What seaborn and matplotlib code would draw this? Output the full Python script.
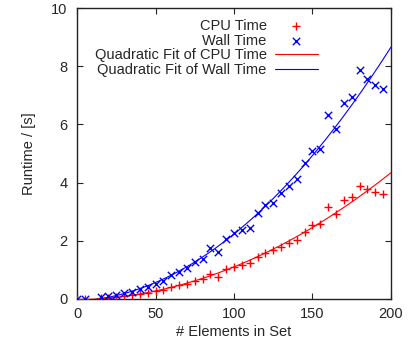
import numpy as np
import matplotlib
matplotlib.use("Agg")
import matplotlib.pyplot as plt
import seaborn as sns

# set sizes used in the benchmark
sizes = [0, 5, 15, 20, 25, 30, 35, 40, 45, 50, 55, 60, 65, 70, 75, 80, 85, 90, 95, 100,
         105, 110, 115, 120, 125, 130, 135, 140, 145, 150, 155, 160, 165, 170, 175, 180,
         185, 190, 195]

cpu_time = [0, 0, 0.03, 0.05, 0.07, 0.10, 0.13, 0.16, 0.21, 0.26, 0.32, 0.42, 0.47, 0.53,
            0.61, 0.67, 0.86, 0.77, 1.02, 1.10, 1.17, 1.23, 1.44, 1.58, 1.67, 1.80, 1.94,
            2.04, 2.31, 2.53, 2.58, 3.15, 2.93, 3.40, 3.50, 3.90, 3.77, 3.69, 3.62]

wall_time = [0, 0, 0.06, 0.10, 0.14, 0.20, 0.25, 0.33, 0.42, 0.52, 0.63, 0.82, 0.94, 1.05,
             1.28, 1.37, 1.74, 1.63, 2.07, 2.27, 2.37, 2.43, 2.94, 3.23, 3.31, 3.63, 3.90,
             4.11, 4.66, 5.10, 5.17, 6.31, 5.83, 6.75, 6.93, 7.87, 7.57, 7.36, 7.20]

x_ticks = [0, 50, 100, 150, 200]
y_ticks = [0, 2, 4, 6, 8, 10]

sns.set_style("ticks")
plt.rcParams["font.family"] = ["Liberation Sans", "DejaVu Sans"]
plt.rcParams["font.size"] = 10.5

fig = plt.figure(figsize=(4.17, 3.49), dpi=100)
ax = fig.add_axes([0.1847, 0.1433, 0.7529, 0.8337])

# quadratic fits
x_fit = np.linspace(0, 200, 201)
cpu_fit = np.polyval(np.polyfit(sizes, cpu_time, 2), x_fit)
wall_fit = np.polyval(np.polyfit(sizes, wall_time, 2), x_fit)

sns.scatterplot(x=sizes, y=cpu_time, marker="+", color="#ff0000", s=32, linewidth=1.0,
                label="CPU Time", ax=ax, zorder=3)
sns.scatterplot(x=sizes, y=wall_time, marker="x", color="#0000ff", s=28, linewidth=1.0,
                label="Wall Time", ax=ax, zorder=3)
sns.lineplot(x=x_fit, y=cpu_fit, color="#ff0000", linewidth=0.8,
             label="Quadratic Fit of CPU Time", ax=ax, zorder=2)
sns.lineplot(x=x_fit, y=wall_fit, color="#0000ff", linewidth=0.8,
             label="Quadratic Fit of Wall Time", ax=ax, zorder=2)

ax.set_xlim(0, 200)
ax.set_ylim(0, 10)
ax.set_xticks(x_ticks)
ax.set_yticks(y_ticks)
ax.tick_params(direction="in", length=4, width=0.8, top=True, right=True, labelsize=10.5)
ax.tick_params(axis="x", pad=6)
ax.tick_params(axis="y", pad=7)
for sp in ax.spines.values():
    sp.set_visible(True)
    sp.set_linewidth(1.0)
    sp.set_color("#222222")

ax.set_xlabel("# Elements in Set", fontsize=10.5, labelpad=3)
ax.set_ylabel("Runtime / [s]", fontsize=10.5, labelpad=11)

ax.legend(markerfirst=False, frameon=False, loc="upper right",
          bbox_to_anchor=(0.779, 0.966), bbox_transform=fig.transFigure,
          borderpad=0, handlelength=2.9, handletextpad=0.6, labelspacing=0.04,
          fontsize=10.5)

fig.savefig("out.png", dpi=100)
